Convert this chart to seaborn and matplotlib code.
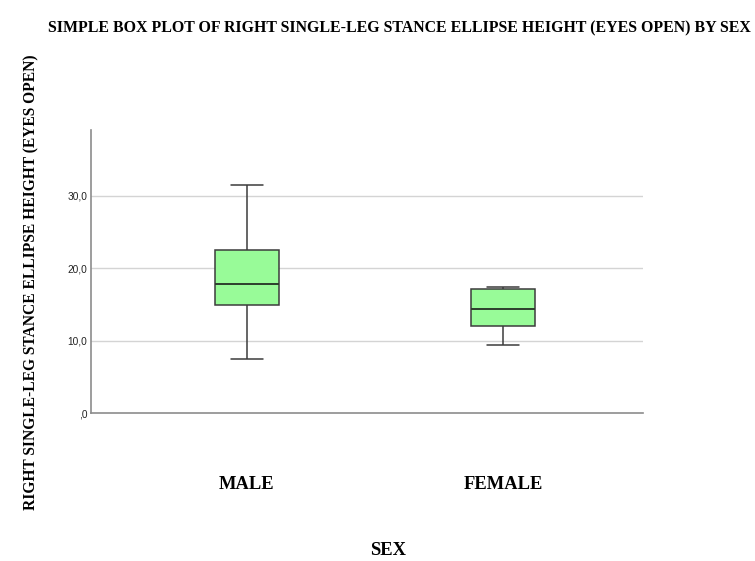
import matplotlib
matplotlib.use('Agg')
import matplotlib.pyplot as plt
import pandas as pd
import seaborn as sns

# five-number summaries (min, q1, median, q3, max)
sex_labels = ['MALE', 'FEMALE']
male_values = [7.5, 14.9, 17.8, 22.5, 31.5]
female_values = [9.4, 12.0, 14.4, 17.1, 17.4]
y_ticks = [0, 10, 20, 30]
y_tick_labels = [',0', '10,0', '20,0', '30,0']

df = pd.DataFrame({
    'sex': ['MALE'] * len(male_values) + ['FEMALE'] * len(female_values),
    'height': male_values + female_values,
})

sns.set_style('white')
plt.rcParams['text.color'] = 'black'
serif = ['Liberation Serif', 'DejaVu Serif']

fig = plt.figure(figsize=(7.55, 5.61), dpi=100)
ax = fig.add_axes([0.1205, 0.2638, 0.7315, 0.5042])

sns.boxplot(data=df, x='sex', y='height', order=sex_labels, ax=ax,
            color='#98fb98', saturation=1, width=0.25, whis=(0, 100),
            linecolor='#3c3c3c', linewidth=1.1,
            medianprops={'color': '#2d3d2d', 'linewidth': 1.4})

ax.set_ylim(0, 39.1)
ax.set_xlim(-0.609, 1.547)
ax.set_yticks(y_ticks)
ax.set_yticklabels(y_tick_labels, fontsize=7.3, family='Liberation Sans', color='#222222')
ax.tick_params(axis='y', length=0, pad=2.5)
ax.tick_params(axis='x', length=0, pad=45)
ax.set_xticks(range(len(sex_labels)))
ax.set_xticklabels(sex_labels, fontsize=13.3, fontweight='bold', family=serif, color='black')
for y in y_ticks[1:]:
    ax.axhline(y, color='#d4d4d4', linewidth=1.0, zorder=0)

for side in ['top', 'right']:
    ax.spines[side].set_visible(False)
for side in ['left', 'bottom']:
    ax.spines[side].set_color('#8c8c8c')
    ax.spines[side].set_linewidth(1.2)

ax.set_xlabel('')
ax.set_ylabel('')
fig.text(0.529, 0.95, 'SIMPLE BOX PLOT OF RIGHT SINGLE-LEG STANCE ELLIPSE HEIGHT (EYES OPEN) BY SEX',
         ha='center', va='center', fontsize=11.4, fontweight='bold', family=serif, color='black')
fig.text(0.514, 0.018, 'SEX', ha='center', va='center', fontsize=13.3,
         fontweight='bold', family=serif, color='black')
fig.text(0.041, 0.497, 'RIGHT SINGLE-LEG STANCE ELLIPSE HEIGHT (EYES OPEN)', ha='center',
         va='center', rotation=90, fontsize=11.2, fontweight='bold', family=serif, color='black')

fig.savefig('out.png', dpi=100)
